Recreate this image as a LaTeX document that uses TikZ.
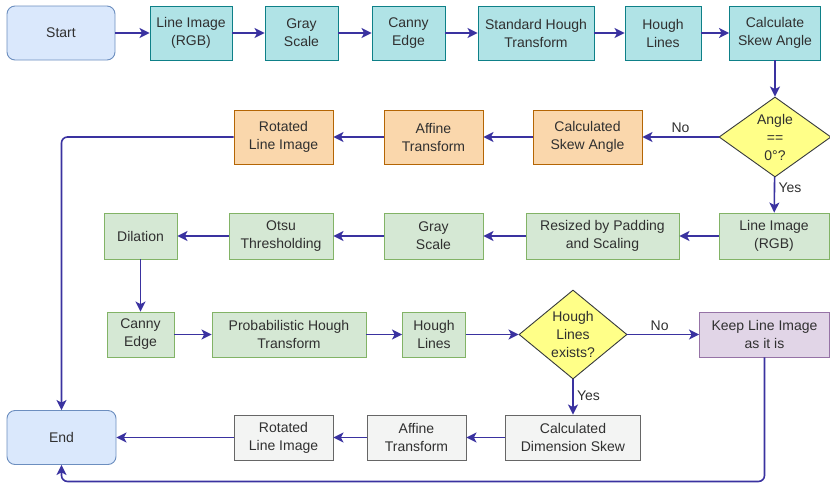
\documentclass[tikz,border=0pt]{standalone}
\usepackage{fontspec}
\setmainfont{Liberation Sans}
\usetikzlibrary{shapes.geometric, arrows.meta}
\definecolor{flow}{HTML}{3A32A0}
\definecolor{txt}{HTML}{303030}
\definecolor{termfill}{HTML}{DAE8FC}
\definecolor{termline}{HTML}{6C8EBF}
\definecolor{tealfill}{HTML}{B0E3E6}
\definecolor{tealline}{HTML}{0E8088}
\definecolor{orangefill}{HTML}{FAD7AC}
\definecolor{orangeline}{HTML}{B46504}
\definecolor{greenfill}{HTML}{D5E8D4}
\definecolor{greenline}{HTML}{82B366}
\definecolor{purplefill}{HTML}{E1D5E7}
\definecolor{purpleline}{HTML}{9673A6}
\definecolor{greyfill}{HTML}{F3F4F3}
\definecolor{greyline}{HTML}{666666}
\definecolor{yellowfill}{HTML}{FFFF88}
\definecolor{yellowline}{HTML}{36393D}
\begin{document}
\begin{tikzpicture}[x=1pt, y=-1pt, ->, >={Stealth[length=10pt, width=10pt, inset=2.5pt]},
    every node/.style={font=\fontsize{14}{18}\selectfont, text=txt, align=center},
    flowline/.style={draw=flow, line width=1.6pt},
    every edge/.style={flowline},
    term/.style={draw=termline, fill=termfill, rounded corners=8pt, line width=0.9pt, minimum height=54pt},
    box/.style={rectangle, line width=0.9pt, inner sep=2pt},
    tealbox/.style={box, draw=tealline, fill=tealfill, minimum height=54pt},
    orangebox/.style={box, draw=orangeline, fill=orangefill, minimum height=54pt},
    greenbox/.style={box, draw=greenline, fill=greenfill, minimum height=46pt},
    purplebox/.style={box, draw=purpleline, fill=purplefill, minimum height=45pt},
    greybox/.style={box, draw=greyline, fill=greyfill, minimum height=45pt},
    decide/.style={diamond, draw=yellowline, fill=yellowfill, line width=0.9pt, inner sep=0pt}]
    \useasboundingbox (0,0) rectangle (830,485);
    % first row
    \node[term, minimum width=108pt] (1) at (61,33) {Start};
    \node[tealbox, minimum width=82pt] (2) at (191,33) {Line Image\\(RGB)};
    \node[tealbox, minimum width=73pt] (3) at (301.5,33) {Gray\\Scale};
    \node[tealbox, minimum width=73pt] (4) at (408.5,33) {Canny\\Edge};
    \node[tealbox, minimum width=116pt] (5) at (536,33) {Standard Hough\\Transform};
    \node[tealbox, minimum width=76pt] (6) at (663,33) {Hough\\Lines};
    \node[tealbox, minimum width=91pt] (7) at (775,33) {Calculate\\Skew Angle};
    % second row
    \node[decide, aspect=1.5, minimum width=112pt, minimum height=80pt] (8) at (775,137) {Angle\\==\\0°?};
    \node[orangebox, minimum width=109pt] (9) at (587.5,137) {Calculated\\Skew Angle};
    \node[orangebox, minimum width=99pt] (10) at (433.5,137) {Affine\\Transform};
    \node[orangebox, minimum width=99pt] (11) at (283.5,137) {Rotated\\Line Image};
    % third row
    \node[greenbox, minimum width=110pt] (12) at (774,236) {Line Image\\(RGB)};
    \node[greenbox, minimum width=153pt] (13) at (602.5,236) {Resized by Padding\\and Scaling};
    \node[greenbox, minimum width=99pt] (14) at (433.5,236) {Gray\\Scale};
    \node[greenbox, minimum width=104pt] (15) at (281,236) {Otsu\\Thresholding};
    \node[greenbox, minimum width=73pt] (16) at (140.5,236) {Dilation};
    % fourth row
    \node[greenbox, minimum width=67pt, minimum height=45pt] (17) at (140.5,334.5) {Canny\\Edge};
    \node[greenbox, minimum width=154pt, minimum height=45pt] (18) at (289,334.5) {Probabilistic Hough\\Transform};
    \node[greenbox, minimum width=63pt, minimum height=45pt] (19) at (434,334.5) {Hough\\Lines};
    \node[decide, aspect=1.2, minimum width=108pt, minimum height=89pt] (20) at (573,334.5) {Hough\\Lines\\exists?};
    \node[purplebox, minimum width=130pt] (21) at (764.5,334.5) {Keep Line Image\\as it is};
    % last row
    \node[greybox, minimum width=135pt] (22) at (573,437.5) {Calculated\\Dimension Skew};
    \node[greybox, minimum width=99pt] (23) at (416.5,437.5) {Affine\\Transform};
    \node[greybox, minimum width=99pt] (24) at (283.5,437.5) {Rotated\\Line Image};
    \node[term, minimum width=109pt] (25) at (61.5,437.5) {End};
    \path
    (1) edge (2)
    (2) edge (3)
    (3) edge (4)
    (4) edge (5)
    (5) edge (6)
    (6) edge (7)
    (7) edge (8)
    (8) edge node[above] {No} (9)
    (9) edge (10)
    (10) edge (11)
    (8) edge node[right, pos=0.3] {Yes} (12)
    (12) edge (13)
    (13) edge (14)
    (14) edge (15)
    (15) edge (16)
    (16) edge (17)
    (17) edge (18)
    (18) edge (19)
    (19) edge (20)
    (20) edge node[above, pos=0.45] {No} (21)
    (20) edge node[right, pos=0.45] {Yes} (22)
    (22) edge (23)
    (23) edge (24)
    (24) edge (25);
    \draw[flowline, rounded corners=6pt] (11) -| (25);
    \draw[flowline, rounded corners=6pt] (21.south) -- ++(0,124) -| (25.south);
\end{tikzpicture}
\end{document}
